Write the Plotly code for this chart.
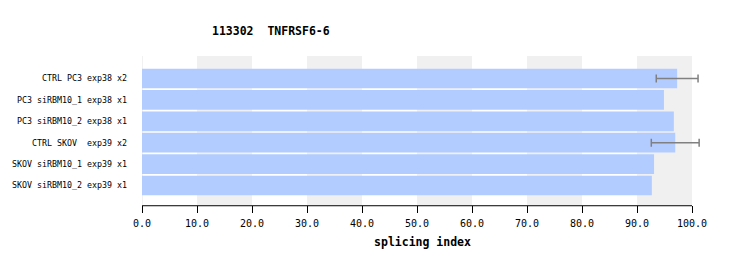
import plotly.graph_objects as go

categories = ["CTRL PC3 exp38 x2", "PC3 siRBM10_1 exp38 x1", "PC3 siRBM10_2 exp38 x1",
              "CTRL SKOV\u00a0 exp39 x2", "SKOV siRBM10_1 exp39 x1", "SKOV siRBM10_2 exp39 x1"]
values = [97.3, 94.9, 96.7, 96.95, 93.1, 92.7]
errors = [3.8, None, None, 4.35, None, None]
tick_vals = [0, 10, 20, 30, 40, 50, 60, 70, 80, 90, 100]
tick_text = ["%.1f" % v for v in tick_vals]
title_text = "113302\u00a0 TNFRSF6-6"
x_title = "splicing index"

font = "DejaVu Sans Mono"

fig = go.Figure()
fig.add_trace(go.Bar(
    x=values, y=categories, orientation="h",
    marker=dict(color="#b3ccff", line=dict(width=0)),
))
err_idx = [i for i, e in enumerate(errors) if e is not None]
fig.add_trace(go.Scatter(
    x=[values[i] for i in err_idx], y=[categories[i] for i in err_idx],
    mode="markers", marker=dict(size=1, opacity=0),
    error_x=dict(type="data", array=[errors[i] for i in err_idx], visible=True,
                 color="#808080", thickness=1.5, width=4),
    hoverinfo="skip",
))

shapes = []
for s in range(10, 100, 20):
    shapes.append(dict(type="rect", xref="x", yref="paper", x0=s, x1=s + 10, y0=0, y1=1,
                       fillcolor="#f0f0f0", line=dict(width=0), layer="below"))
shapes.append(dict(type="line", xref="x", yref="paper", x0=0, x1=0, y0=0, y1=1,
                   line=dict(color="#e4e4e4", width=1), layer="below"))
shapes.append(dict(type="line", xref="x", yref="paper", x0=0, x1=100, y0=-0.005, y1=-0.005,
                   line=dict(color="black", width=1), layer="above"))

fig.update_layout(
    width=729, height=266,
    margin=dict(l=142, r=26, t=56, b=61),
    paper_bgcolor="white", plot_bgcolor="white",
    showlegend=False,
    bargap=0.08,
    shapes=shapes,
    font=dict(family=font, color="black"),
    annotations=[
        dict(text="<b>%s</b>" % title_text, xref="paper", yref="paper",
             x=(271 - 142) / (729 - 142 - 26), y=(266 - 61 - 31) / (266 - 56 - 61),
             xanchor="center", yanchor="middle",
             showarrow=False, font=dict(size=11.5, family=font)),
    ],
    xaxis=dict(range=[0, 102], tickvals=tick_vals, ticktext=tick_text,
               showgrid=False, zeroline=False, showline=False,
               ticks="outside", ticklen=7, tickcolor="black", tickwidth=1,
               ticklabelstandoff=2,
               tickfont=dict(size=10, family=font),
               title=dict(text="<b>%s</b>" % x_title, font=dict(size=11.5, family=font), standoff=9)),
    yaxis=dict(type="category", categoryorder="array", categoryarray=categories,
               range=[5.91, -1.05], showgrid=False, zeroline=False, showline=False,
               ticks="", ticklabelstandoff=14,
               tickfont=dict(size=8.3, family=font)),
)

fig.write_html("out.html")
